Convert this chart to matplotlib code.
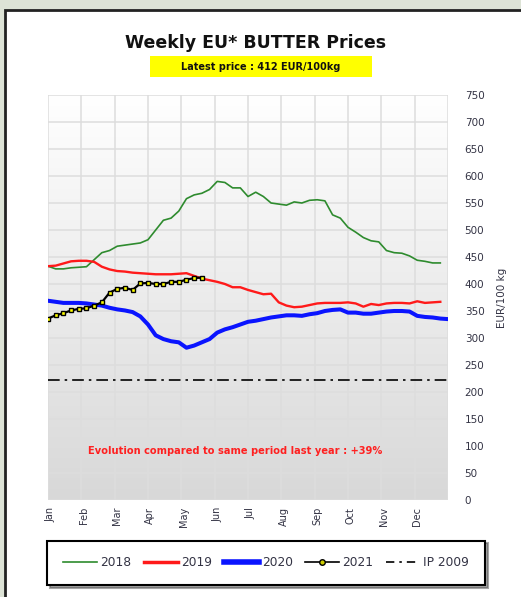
import matplotlib
matplotlib.use('Agg')
import matplotlib.pyplot as plt
from matplotlib.patches import Rectangle
import matplotlib.transforms as mtransforms
import numpy as np

months = ['Jan', 'Feb', 'Mar', 'Apr', 'May', 'Jun', 'Jul', 'Aug', 'Sep', 'Oct', 'Nov', 'Dec']

y2018 = [433, 428, 428, 430, 431, 432, 445, 458, 462, 470, 472, 474, 476, 482, 500, 518,
         522, 535, 558, 565, 568, 575, 590, 588, 578, 578, 562, 570, 562, 550, 548, 546,
         552, 550, 555, 556, 554, 528, 522, 505, 496, 486, 480, 478, 462, 458, 457, 452,
         444, 442, 439, 439]
y2019 = [433, 434, 438, 442, 443, 443, 441, 432, 427, 424, 423, 421, 420, 419, 418, 418,
         418, 419, 420, 415, 410, 407, 404, 400, 394, 394, 389, 385, 381, 382, 366, 360,
         357, 358, 361, 364, 365, 365, 365, 366, 364, 358, 363, 361, 364, 365, 365, 364,
         368, 365, 366, 367]
y2020 = [369, 367, 365, 365, 365, 364, 362, 360, 356, 353, 351, 348, 340, 325, 305, 298,
         294, 292, 282, 286, 292, 298, 310, 316, 320, 325, 330, 332, 335, 338, 340, 342,
         342, 341, 344, 346, 350, 352, 353, 347, 347, 345, 345, 347, 349, 350, 350, 349,
         341, 339, 338, 336, 335]
y2021 = [336, 342, 346, 351, 354, 355, 360, 366, 384, 391, 393, 389, 401, 402, 400, 400,
         404, 404, 408, 411, 412]
ip2009 = 221.75
latest = 412
evolution = 39

def main():
    fig = plt.figure(figsize=(5.21, 5.97), dpi=100)
    fig.patch.set_facecolor('#dde3d6')

    # white panel with black frame
    W, H = 521.0, 597.0
    fig.patches.append(Rectangle((5 / W, -0.05), 1.1, 1 - 10 / H + 0.05, transform=fig.transFigure,
                                 facecolor='white', edgecolor='#222222', lw=2.0, zorder=-5))

    ax = fig.add_axes([48 / W, 1 - 500 / H, 400 / W, 405 / H])
    ax.set_zorder(1)
    nweeks = 52.0

    # gradient background
    grad = np.linspace(0, 1, 256).reshape(-1, 1)
    cmap = matplotlib.colors.LinearSegmentedColormap.from_list('bg', ['#ffffff', '#d8d8d8'])
    ax.imshow(grad, extent=[0, 1, 0, 1], transform=ax.transAxes, aspect='auto',
              cmap=cmap, zorder=0)
    ax.set_xlim(0, nweeks)
    ax.set_ylim(0, 750)

    for m in range(13):
        ax.axvline(m * nweeks / 12, color='#dddddd', lw=1.1, zorder=1)
    for v in range(0, 751, 50):
        ax.axhline(v, color='#dddddd', lw=1.1, zorder=1)

    ax.plot(np.arange(len(y2018)), y2018, color='#2e8b2e', lw=1.2, zorder=3)
    ax.plot(np.arange(len(y2019)), y2019, color='#ff1a1a', lw=1.7, zorder=3)
    ax.plot(np.arange(len(y2020)), y2020, color='#0a14ff', lw=2.9, zorder=3)
    ax.plot(np.arange(len(y2021)), y2021, color='black', lw=1.6, marker='s', ms=3.5,
            mfc='#ffff00', mec='black', mew=1.0, zorder=4)
    ax.axhline(ip2009, color='black', lw=1.2, dashes=(7, 3, 1.5, 3), zorder=3)

    tr = mtransforms.blended_transform_factory(ax.transAxes, ax.transData)
    ax.text(0.4675, 90, 'Evolution compared to same period last year : +%d%%' % evolution,
            transform=tr, ha='center', va='center', color='#ff2020', fontsize=7.1,
            fontweight='bold', zorder=5)

    for s in ax.spines.values():
        s.set_visible(False)
    ax.yaxis.tick_right()
    ax.yaxis.set_label_position('right')
    ax.set_yticks(range(0, 751, 50))
    ax.tick_params(axis='y', length=0, pad=12, labelsize=7.5, labelcolor='#333344')
    ax.set_ylabel('EUR/100 kg', fontsize=7.5, color='#333344', labelpad=9)
    ax.set_xticks(np.arange(12) * nweeks / 12 + 0.3)
    ax.set_xticklabels(months, rotation=90, fontsize=7, color='#333344')
    ax.tick_params(axis='x', length=0, pad=5)

    fig.text(256 / W, 1 - 43 / H, 'Weekly EU* BUTTER Prices', ha='center', va='center',
             fontsize=12.5, fontweight='bold', color='#111111')
    fig.patches.append(Rectangle((150 / W, 1 - 77 / H), 222 / W, 21 / H, transform=fig.transFigure,
                                 facecolor='#ffff00', edgecolor='none', zorder=1))
    fig.text(261 / W, 1 - 66.5 / H, 'Latest price : %d EUR/100kg' % latest, ha='center', va='center',
             fontsize=7, fontweight='bold', color='#111111')

    # legend handles
    h = [plt.Line2D([], [], color='#2e8b2e', lw=1.2),
         plt.Line2D([], [], color='#ff1a1a', lw=2.5),
         plt.Line2D([], [], color='#0a14ff', lw=4),
         plt.Line2D([], [], color='black', lw=1.2, marker='o', ms=4, mfc='#cccc00', mec='black'),
         plt.Line2D([], [], color='black', lw=1.2, dashes=(5, 3, 1.5, 3))]
    leg = fig.legend(h, ['2018', '2019', '2020', '2021', 'IP 2009'], ncol=5,
                     loc='center', bbox_to_anchor=(47 / W, 1 - 588 / H, 438 / W, 50 / H),
                     mode='expand', fontsize=8.8, frameon=True, fancybox=False, shadow=True,
                     edgecolor='black', handlelength=2.8, handletextpad=0.25, borderaxespad=0,
                     borderpad=1.3)
    leg.get_frame().set_linewidth(1.5)
    for t in leg.get_texts():
        t.set_color('#333344')

    fig.savefig('out.png', dpi=100, facecolor=fig.get_facecolor())

if __name__ == '__main__':
    main()
